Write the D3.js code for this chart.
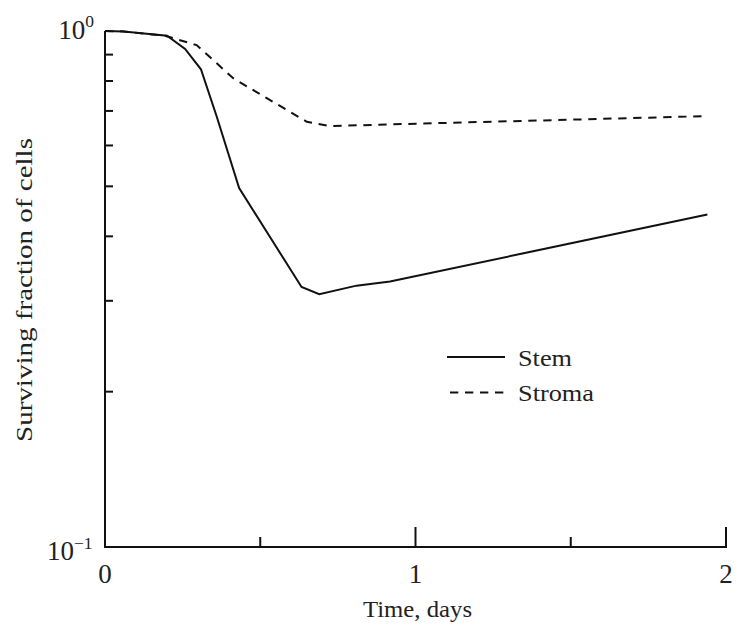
<!DOCTYPE html>
<html>
<head>
<meta charset="utf-8">
<script src="https://cdn.jsdelivr.net/npm/d3@7"></script>
<style>
  html, body { margin: 0; padding: 0; background: #fff; }
  svg { display: block; }
  text { font-family: "Liberation Serif", "Times New Roman", serif; fill: #222; }
</style>
</head>
<body>
<svg id="chart" width="737" height="629"></svg>
<script>
// Time in days
const stemTime    = [0, 0.06, 0.2, 0.258, 0.309, 0.36, 0.432, 0.537, 0.633, 0.69, 0.81, 0.918, 1.94];
// Surviving fraction of stem cells
const stemValue   = [1.0, 0.998, 0.979, 0.923, 0.843, 0.682, 0.496, 0.394, 0.319, 0.309, 0.321, 0.327, 0.441];
const stromaTime  = [0, 0.06, 0.193, 0.295, 0.413, 0.521, 0.65, 0.725, 0.907, 1.449, 1.936];
// Surviving fraction of stromal cells
const stromaValue = [1.0, 0.998, 0.979, 0.939, 0.81, 0.741, 0.667, 0.654, 0.659, 0.672, 0.684];

const xMajorTicks = [0, 1, 2];
const xMinorTicks = [0.5, 1.5];
const yMinorTicks = [0.2, 0.3, 0.4, 0.5, 0.6, 0.7, 0.8, 0.9];
const yDecadeLabels = [{ v: 1, exp: "0" }, { v: 0.1, exp: "\u22121" }];
const seriesNames = ["Stem", "Stroma"];

const svg = d3.select("#chart");
const plotLeft = 105, plotRight = 726, plotTop = 31, plotBottom = 547;

const x = d3.scaleLinear().domain([0, 2]).range([plotLeft, plotRight]);
const y = d3.scaleLog().domain([0.1, 1]).range([plotBottom, plotTop]);

const ink = "#111";
const dash = "8.3,6.7";

// axes: left and bottom only
svg.append("line").attr("x1", plotLeft).attr("x2", plotLeft).attr("y1", plotTop).attr("y2", plotBottom)
  .attr("stroke", ink).attr("stroke-width", 2);
svg.append("line").attr("x1", plotLeft - 1).attr("x2", plotRight + 1).attr("y1", plotBottom).attr("y2", plotBottom)
  .attr("stroke", ink).attr("stroke-width", 2);

// y ticks pointing inward
svg.selectAll(".ytick").data(yMinorTicks).join("line")
  .attr("x1", plotLeft).attr("x2", plotLeft + 8)
  .attr("y1", d => y(d)).attr("y2", d => y(d))
  .attr("stroke", ink).attr("stroke-width", 2);

// x ticks pointing inward
svg.selectAll(".xmaj").data(xMajorTicks.filter(d => d > 0)).join("line")
  .attr("x1", d => x(d)).attr("x2", d => x(d))
  .attr("y1", plotBottom).attr("y2", plotBottom - 20)
  .attr("stroke", ink).attr("stroke-width", 2);
svg.selectAll(".xmin").data(xMinorTicks).join("line")
  .attr("x1", d => x(d)).attr("x2", d => x(d))
  .attr("y1", plotBottom).attr("y2", plotBottom - 10)
  .attr("stroke", ink).attr("stroke-width", 2);

// x tick labels
svg.selectAll(".xlab").data(xMajorTicks).join("text")
  .attr("x", d => x(d)).attr("y", plotBottom + 36)
  .attr("text-anchor", "middle").attr("font-size", 27)
  .text(d => d);

// y decade labels 10^n (top label sits level with the axis end, bottom one just below the corner)
yDecadeLabels.forEach(d => {
  const t = svg.append("text")
    .attr("x", d.v === 1 ? 94 : 92.5).attr("y", y(d.v) + (d.v === 1 ? 7.5 : 13))
    .attr("text-anchor", "end").attr("font-size", 27);
  t.append("tspan").text("10");
  t.append("tspan").attr("dy", -11.5).attr("font-size", 17.5).text(d.exp);
});

// axis titles
svg.append("text")
  .attr("x", 363).attr("y", 616.5)
  .attr("font-size", 23)
  .attr("textLength", 109).attr("lengthAdjust", "spacingAndGlyphs")
  .text("Time, days");
svg.append("text")
  .attr("transform", "translate(31.5,442) rotate(-90)")
  .attr("font-size", 22.5)
  .attr("textLength", 304).attr("lengthAdjust", "spacingAndGlyphs")
  .text("Surviving fraction of cells");

// curves
const line = d3.line().x(d => x(d[0])).y(d => y(d[1]));
const stemPts = stemTime.map((t, i) => [t, stemValue[i]]);
const stromaPts = stromaTime.map((t, i) => [t, stromaValue[i]]);

svg.append("path").datum(stromaPts).attr("d", line)
  .attr("fill", "none").attr("stroke", ink).attr("stroke-width", 2)
  .attr("stroke-dasharray", dash);
svg.append("path").datum(stemPts).attr("d", line)
  .attr("fill", "none").attr("stroke", ink).attr("stroke-width", 2);

// legend
const legendWidths = [54, 76];
const legend = svg.append("g");
seriesNames.forEach((name, i) => {
  const ly = 357 + i * 35.5;
  legend.append("line")
    .attr("x1", i === 1 ? 450 : 447).attr("x2", 505).attr("y1", ly).attr("y2", ly)
    .attr("stroke", ink).attr("stroke-width", 2)
    .attr("stroke-dasharray", i === 1 ? dash : null);
  legend.append("text")
    .attr("x", 518).attr("y", ly + 8.5).attr("font-size", 23)
    .attr("textLength", legendWidths[i]).attr("lengthAdjust", "spacingAndGlyphs")
    .text(name);
});
</script>
</body>
</html>
